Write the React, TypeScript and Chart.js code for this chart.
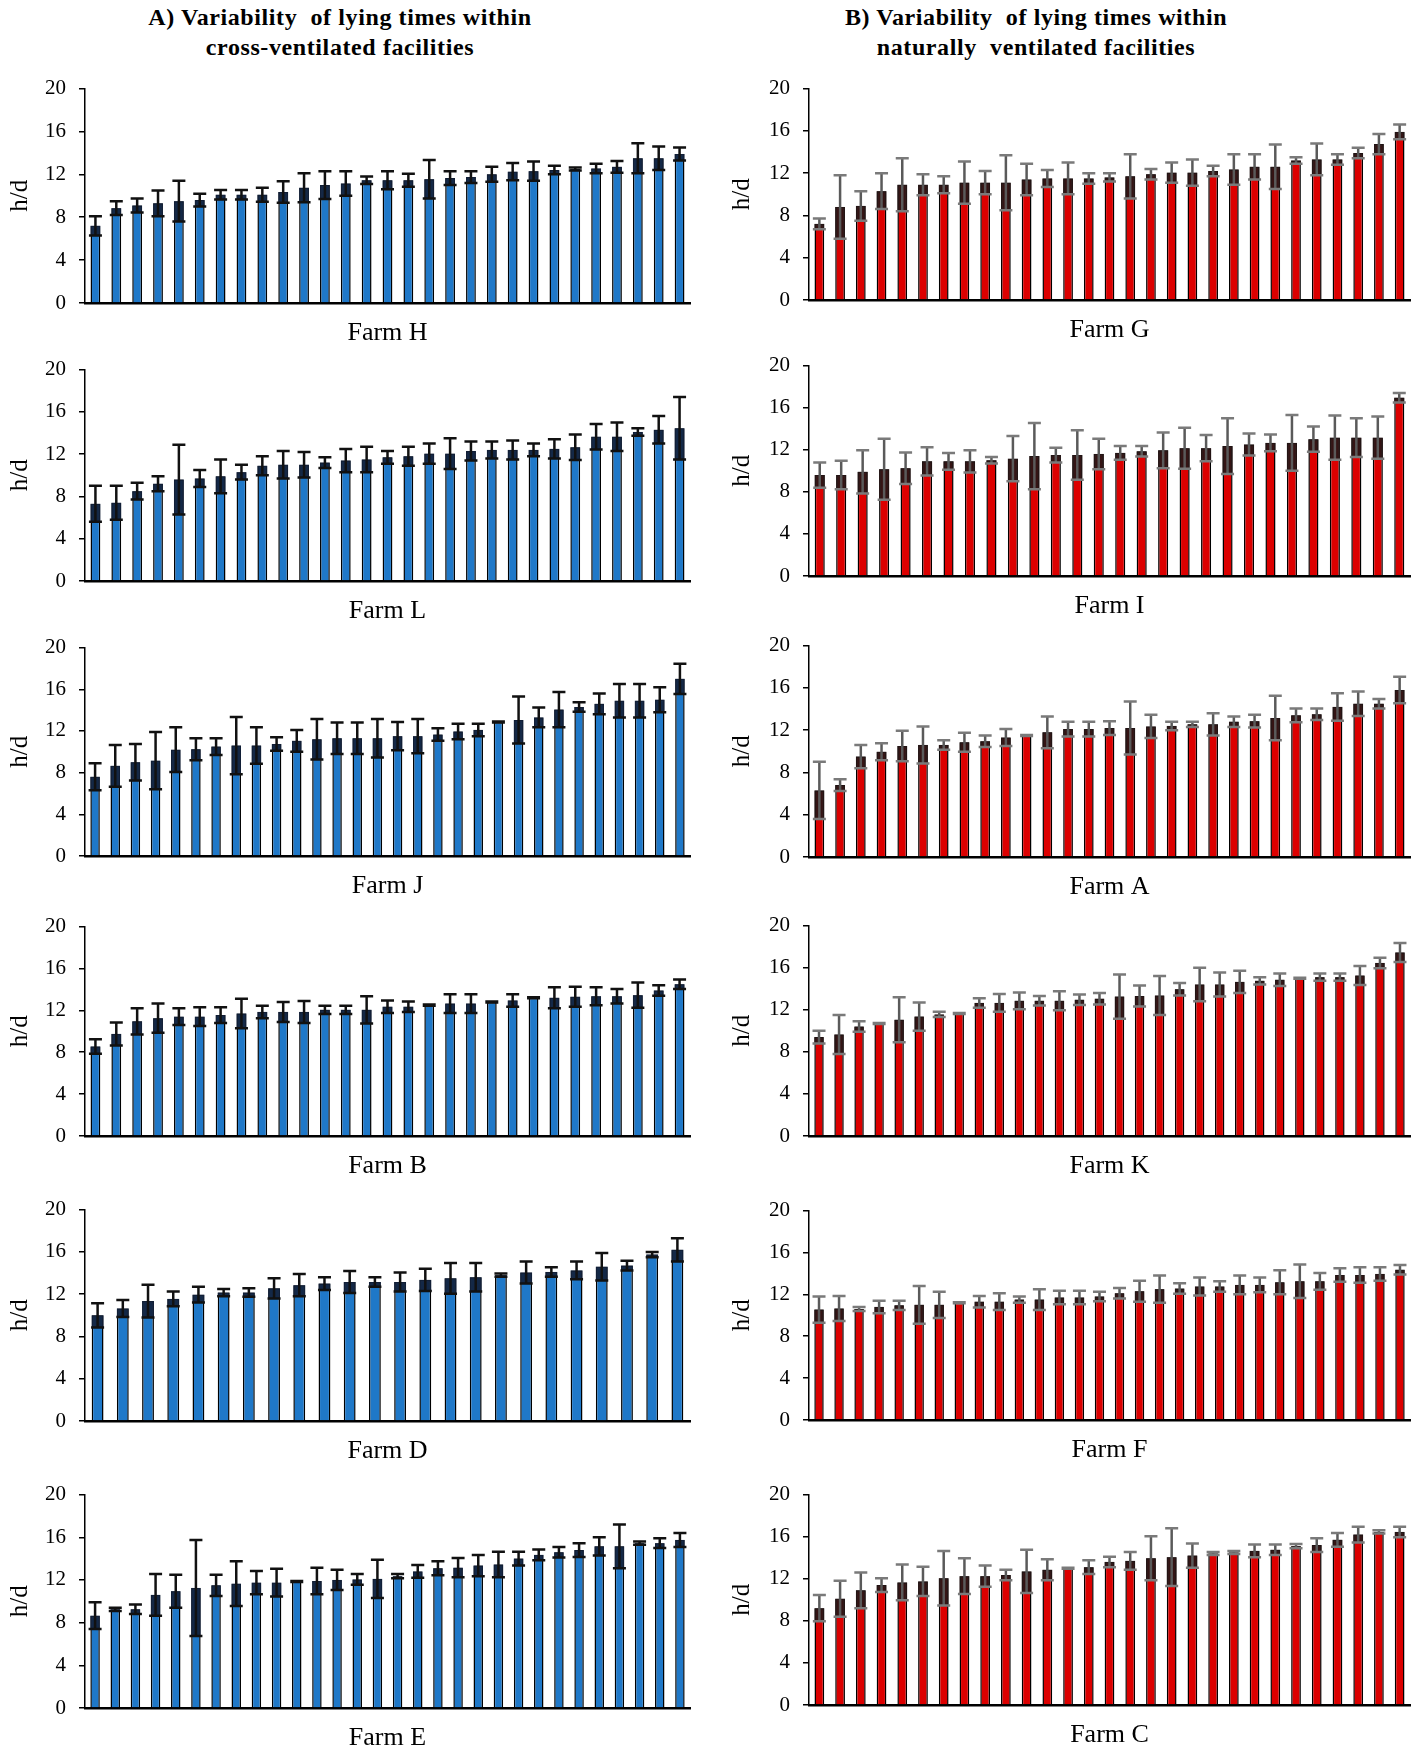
import React, { useEffect, useRef } from "react";
import { Chart, registerables } from "chart.js";

Chart.register(...registerables);

// ---------- data (lying time h/d: mean and SD per cow) ----------
// Panel A: cross-ventilated facilities
const farmHMean = [7.2, 8.85, 9.1, 9.3, 9.5, 9.6, 10.1, 10.1, 10.1, 10.35, 10.75, 11.0, 11.15, 11.45, 11.45, 11.45, 11.55, 11.65, 11.75, 12.0, 12.25, 12.3, 12.4, 12.5, 12.55, 12.7, 13.5, 13.5, 13.9];
const farmHSd = [0.9, 0.65, 0.65, 1.2, 1.9, 0.6, 0.45, 0.45, 0.65, 1.0, 1.35, 1.3, 1.15, 0.35, 0.85, 0.6, 1.8, 0.65, 0.55, 0.7, 0.8, 0.9, 0.4, 0.15, 0.45, 0.55, 1.4, 1.1, 0.6];

const farmLMean = [7.3, 7.4, 8.5, 9.2, 9.6, 9.7, 9.9, 10.3, 10.9, 11.0, 11.0, 11.2, 11.4, 11.5, 11.7, 11.8, 12.05, 12.05, 12.3, 12.4, 12.4, 12.4, 12.5, 12.65, 13.65, 13.65, 14.1, 14.3, 14.45];
const farmLSd = [1.7, 1.6, 0.8, 0.7, 3.3, 0.8, 1.6, 0.7, 0.9, 1.3, 1.2, 0.5, 1.1, 1.2, 0.6, 0.9, 0.95, 1.45, 0.9, 0.8, 0.9, 0.6, 0.9, 1.2, 1.2, 1.35, 0.35, 1.3, 2.95];

const farmJMean = [7.6, 8.65, 9.0, 9.15, 10.2, 10.25, 10.5, 10.6, 10.6, 10.75, 11.05, 11.2, 11.3, 11.3, 11.3, 11.5, 11.5, 11.65, 11.95, 12.1, 12.85, 13.05, 13.3, 14.05, 14.3, 14.6, 14.9, 14.9, 15.0, 17.0];
const farmJSd = [1.3, 2.0, 1.75, 2.75, 2.15, 1.05, 0.8, 2.75, 1.75, 0.65, 1.05, 1.95, 1.5, 1.5, 1.85, 1.35, 1.65, 0.6, 0.75, 0.6, 0.05, 2.25, 0.95, 1.7, 0.45, 1.0, 1.6, 1.6, 1.2, 1.45];

const farmBMean = [8.55, 9.75, 10.95, 11.25, 11.4, 11.4, 11.55, 11.7, 11.85, 11.85, 11.85, 12.05, 12.05, 12.05, 12.35, 12.35, 12.5, 12.65, 12.65, 12.8, 12.95, 13.2, 13.2, 13.3, 13.35, 13.35, 13.45, 13.9, 14.5];
const farmBSd = [0.7, 1.1, 1.25, 1.4, 0.8, 0.9, 0.75, 1.4, 0.6, 0.95, 1.05, 0.4, 0.4, 1.3, 0.6, 0.5, 0.05, 0.9, 0.9, 0.05, 0.6, 0.05, 1.0, 0.95, 0.85, 0.7, 1.2, 0.5, 0.45];

const farmDMean = [10.0, 10.65, 11.35, 11.55, 11.95, 12.15, 12.15, 12.55, 12.85, 13.0, 13.15, 13.15, 13.15, 13.35, 13.5, 13.6, 13.8, 14.05, 14.1, 14.25, 14.6, 14.7, 15.75, 16.2];
const farmDSd = [1.15, 0.8, 1.55, 0.7, 0.75, 0.35, 0.4, 0.95, 1.05, 0.6, 1.05, 0.45, 0.9, 1.05, 1.45, 1.35, 0.15, 1.05, 0.45, 0.85, 1.3, 0.45, 0.25, 1.1];

const farmEMean = [8.65, 9.25, 9.25, 10.6, 10.95, 11.25, 11.5, 11.65, 11.75, 11.75, 11.85, 11.9, 12.0, 12.05, 12.1, 12.35, 12.8, 13.1, 13.15, 13.35, 13.45, 14.0, 14.35, 14.6, 14.8, 15.15, 15.15, 15.45, 15.45, 15.75];
const farmESd = [1.25, 0.15, 0.45, 1.95, 1.55, 4.5, 1.0, 2.1, 1.1, 1.3, 0.05, 1.25, 0.95, 0.5, 1.8, 0.2, 0.6, 0.65, 0.9, 1.0, 1.2, 0.65, 0.5, 0.5, 0.65, 0.85, 2.05, 0.15, 0.45, 0.65];

// Panel B: naturally ventilated facilities
const farmGMean = [7.2, 8.8, 8.9, 10.3, 10.9, 10.9, 10.9, 11.1, 11.1, 11.1, 11.4, 11.5, 11.5, 11.5, 11.6, 11.7, 11.9, 12.05, 12.05, 12.2, 12.35, 12.6, 12.6, 13.2, 13.3, 13.3, 13.9, 14.75, 15.9];
const farmGSd = [0.5, 3.0, 1.4, 1.7, 2.5, 1.0, 0.8, 2.0, 1.1, 2.6, 1.5, 0.8, 1.5, 0.5, 0.4, 2.1, 0.5, 0.95, 1.25, 0.5, 1.45, 1.2, 2.1, 0.3, 1.5, 0.5, 0.5, 0.95, 0.7];

const farmIMean = [9.6, 9.6, 9.9, 10.15, 10.25, 10.9, 10.9, 10.9, 11.0, 11.15, 11.4, 11.5, 11.5, 11.6, 11.7, 11.85, 11.95, 12.15, 12.15, 12.35, 12.5, 12.65, 12.65, 13.0, 13.15, 13.15, 13.15, 16.95];
const farmISd = [1.2, 1.35, 2.05, 2.9, 1.5, 1.35, 0.8, 1.05, 0.3, 2.15, 3.15, 0.7, 2.35, 1.45, 0.65, 0.5, 1.7, 1.95, 1.25, 2.65, 1.05, 0.8, 2.65, 1.2, 2.1, 1.85, 2.0, 0.45];

const farmAMean = [6.3, 6.8, 9.5, 9.95, 10.5, 10.6, 10.6, 10.85, 10.95, 11.3, 11.5, 11.8, 12.1, 12.1, 12.2, 12.2, 12.35, 12.4, 12.55, 12.55, 12.8, 12.85, 13.15, 13.4, 13.5, 14.2, 14.5, 14.5, 15.8];
const farmASd = [2.7, 0.55, 1.1, 0.8, 1.45, 1.75, 0.45, 0.9, 0.55, 0.8, 0.05, 1.5, 0.7, 0.7, 0.65, 2.5, 1.1, 0.4, 0.25, 1.05, 0.5, 0.6, 2.1, 0.65, 0.55, 1.3, 1.15, 0.45, 1.25];

const farmKMean = [9.4, 9.65, 10.4, 10.7, 11.05, 11.35, 11.55, 11.65, 12.65, 12.65, 12.85, 12.85, 12.85, 12.95, 13.05, 13.25, 13.3, 13.35, 13.95, 14.4, 14.4, 14.65, 14.75, 14.85, 15.0, 15.1, 15.1, 15.25, 16.45, 17.45];
const farmKSd = [0.6, 1.85, 0.5, 0.05, 2.15, 1.35, 0.25, 0.05, 0.45, 0.85, 0.8, 0.45, 0.9, 0.5, 0.55, 2.1, 1.0, 1.85, 0.6, 1.6, 1.15, 1.05, 0.35, 0.6, 0.05, 0.35, 0.35, 0.9, 0.5, 0.9];

const farmFMean = [10.55, 10.65, 10.6, 10.8, 10.95, 11.0, 11.0, 11.2, 11.3, 11.3, 11.5, 11.5, 11.7, 11.7, 11.8, 12.1, 12.3, 12.5, 12.55, 12.75, 12.75, 12.9, 12.9, 13.15, 13.25, 13.25, 13.85, 13.85, 13.95, 14.35];
const farmFSd = [1.25, 1.2, 0.2, 0.6, 0.45, 1.8, 1.25, 0.05, 0.55, 0.8, 0.3, 1.0, 0.65, 0.65, 0.45, 0.5, 1.0, 1.3, 0.5, 0.85, 0.5, 0.9, 0.7, 1.15, 1.6, 0.8, 0.65, 0.75, 0.65, 0.45];

const farmCMean = [9.2, 10.1, 10.9, 11.4, 11.65, 11.75, 12.05, 12.25, 12.25, 12.35, 12.7, 12.85, 13.0, 13.1, 13.6, 13.7, 13.95, 14.05, 14.2, 14.4, 14.5, 14.65, 14.75, 15.1, 15.2, 15.7, 16.2, 16.45, 16.45];
const farmCSd = [1.25, 1.7, 1.7, 0.65, 1.7, 1.4, 2.6, 1.7, 1.0, 0.5, 2.05, 1.0, 0.05, 0.65, 0.5, 0.85, 2.1, 2.75, 1.15, 0.15, 0.15, 0.6, 0.5, 0.2, 0.65, 0.65, 0.75, 0.15, 0.5];

const titleA = ["A) Variability  of lying times within", "cross-ventilated facilities"];
const titleB = ["B) Variability  of lying times within", "naturally  ventilated facilities"];
const yAxisLabel = "h/d";
const yMin = 0;
const yMax = 20;
const yStep = 4;

// ---------- layout / style ----------
const FONT = "'Liberation Serif', 'Times New Roman', serif";

type Style = { bar: string; fill: string; line: string; cap: string };
const styleA: Style = { bar: "#1f78c8", fill: "rgba(18,34,60,0.92)", line: "#111111", cap: "#111111" };
const styleB: Style = { bar: "#dc0000", fill: "rgba(38,22,22,0.92)", line: "#5a5a5a", cap: "#7a7a7a" };

type PanelDef = { name: string; mean: number[]; sd: number[]; col: number; row: number };

const panels: PanelDef[] = [
  { name: "Farm H", mean: farmHMean, sd: farmHSd, col: 0, row: 0 },
  { name: "Farm L", mean: farmLMean, sd: farmLSd, col: 0, row: 1 },
  { name: "Farm J", mean: farmJMean, sd: farmJSd, col: 0, row: 2 },
  { name: "Farm B", mean: farmBMean, sd: farmBSd, col: 0, row: 3 },
  { name: "Farm D", mean: farmDMean, sd: farmDSd, col: 0, row: 4 },
  { name: "Farm E", mean: farmEMean, sd: farmESd, col: 0, row: 5 },
  { name: "Farm G", mean: farmGMean, sd: farmGSd, col: 1, row: 0 },
  { name: "Farm I", mean: farmIMean, sd: farmISd, col: 1, row: 1 },
  { name: "Farm A", mean: farmAMean, sd: farmASd, col: 1, row: 2 },
  { name: "Farm K", mean: farmKMean, sd: farmKSd, col: 1, row: 3 },
  { name: "Farm F", mean: farmFMean, sd: farmFSd, col: 1, row: 4 },
  { name: "Farm C", mean: farmCMean, sd: farmCSd, col: 1, row: 5 },
];

const colLayout = [
  { left: 0, width: 709, axisW: 85, rightPad: 19, titlePadTop: 5, tickPad: 13, style: styleA },
  { left: 708, width: 709, axisW: 101, rightPad: 7, titlePadTop: 19, tickPad: 13, style: styleB },
];
const rowTop = [
  [77, 358, 636, 915, 1198, 1483],
  [77, 354, 634, 914, 1199, 1483],
];
const rowPlotH = [
  [226, 223, 220, 221, 223, 225],
  [223, 222, 223, 222, 221, 222],
];
const TOP_PAD = 14;
const X_AXIS_H = 48;

function makeErrorPlugin(mean: number[], sd: number[], st: Style) {
  return {
    id: "errorBars",
    afterDatasetsDraw(chart: any) {
      const ctx = chart.ctx;
      const ys = chart.scales.y;
      const meta = chart.getDatasetMeta(0);
      ctx.save();
      meta.data.forEach((bar: any, i: number) => {
        const m = mean[i];
        const s = sd[i];
        const x = bar.x;
        const w = bar.width;
        const yM = ys.getPixelForValue(m);
        const yH = ys.getPixelForValue(m + s);
        const yL = ys.getPixelForValue(m - s);
        ctx.fillStyle = st.fill;
        ctx.fillRect(x - w / 2, yM, w, yL - yM);
        ctx.strokeStyle = st.line;
        ctx.lineWidth = 2.5;
        ctx.beginPath();
        ctx.moveTo(x, yH);
        ctx.lineTo(x, yL);
        ctx.stroke();
        ctx.strokeStyle = st.cap;
        ctx.lineWidth = 2.5;
        const ch = 6.5;
        ctx.beginPath();
        ctx.moveTo(x - ch, yH);
        ctx.lineTo(x + ch, yH);
        ctx.moveTo(x - ch, yL);
        ctx.lineTo(x + ch, yL);
        ctx.stroke();
      });
      ctx.restore();
    },
  };
}

function Panel({ p }: { p: PanelDef }) {
  const ref = useRef<HTMLCanvasElement | null>(null);
  const cl = colLayout[p.col];
  const top = rowTop[p.col][p.row] - TOP_PAD;
  const plotH = rowPlotH[p.col][p.row];
  const height = plotH + TOP_PAD + X_AXIS_H;

  useEffect(() => {
    if (!ref.current) return;
    const labels = p.mean.map((_, i) => String(i + 1));
    const chart = new Chart(ref.current, {
      type: "bar",
      data: {
        labels,
        datasets: [
          {
            data: p.mean,
            backgroundColor: cl.style.bar,
            borderColor: "#000000",
            borderWidth: 1.5,
            barPercentage: 0.47,
            categoryPercentage: 1,
          },
        ],
      },
      options: {
        animation: false,
        responsive: false,
        maintainAspectRatio: false,
        devicePixelRatio: 1,
        layout: { padding: { top: TOP_PAD, left: 0, right: cl.rightPad, bottom: 0 } },
        plugins: { legend: { display: false }, tooltip: { enabled: false } },
        scales: {
          x: {
            grid: { display: true, drawOnChartArea: false, drawTicks: false },
            border: { display: true, color: "#000000", width: 2.5 },
            ticks: { display: false },
            title: {
              display: true,
              text: p.name,
              color: "#000000",
              font: { family: FONT, size: 26 },
              padding: { top: 0, bottom: 2 },
            },
            afterFit: (s: any) => {
              s.height = X_AXIS_H;
            },
          },
          y: {
            min: yMin,
            max: yMax,
            ticks: {
              stepSize: yStep,
              color: "#000000",
              font: { family: FONT, size: 21 },
              padding: cl.tickPad,
            },
            grid: {
              display: true,
              drawOnChartArea: false,
              drawTicks: true,
              tickLength: 6,
              color: "#000000",
              lineWidth: 1.5,
            },
            border: { display: true, color: "#000000", width: 1.5 },
            title: {
              display: true,
              text: yAxisLabel,
              color: "#000000",
              font: { family: FONT, size: 25 },
              padding: { top: cl.titlePadTop, bottom: 0 },
            },
            afterFit: (s: any) => {
              s.width = cl.axisW;
            },
          },
        },
      } as any,
      plugins: [makeErrorPlugin(p.mean, p.sd, cl.style) as any],
    });
    return () => chart.destroy();
  }, []);

  return (
    <canvas
      ref={ref}
      width={cl.width}
      height={height}
      style={{ position: "absolute", left: cl.left, top, width: cl.width, height }}
    />
  );
}

function Title({ lines, center }: { lines: string[]; center: number }) {
  return (
    <div
      style={{
        position: "absolute",
        left: center - 320,
        top: 2,
        width: 640,
        textAlign: "center",
        fontFamily: FONT,
        fontWeight: "bold",
        fontSize: 24,
        letterSpacing: "0.6px",
        lineHeight: "30px",
        whiteSpace: "pre",
        color: "#000",
      }}
    >
      {lines.map((l, i) => (
        <div key={i}>{l}</div>
      ))}
    </div>
  );
}

export default function App() {
  return (
    <div
      style={{
        position: "absolute",
        left: 0,
        top: 0,
        width: 1417,
        height: 1752,
        overflow: "hidden",
        background: "#ffffff",
      }}
    >
      <Title lines={titleA} center={340} />
      <Title lines={titleB} center={1036} />
      {panels.map((p) => (
        <Panel key={p.name} p={p} />
      ))}
    </div>
  );
}
